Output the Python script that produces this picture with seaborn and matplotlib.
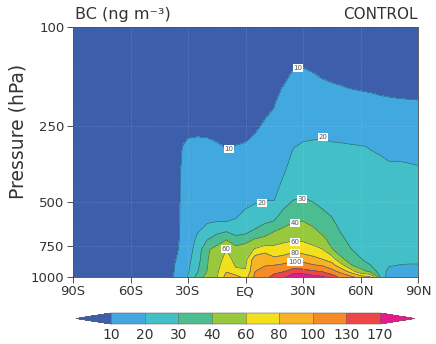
import numpy as np
import matplotlib
matplotlib.use("Agg")
import matplotlib.pyplot as plt
from matplotlib.ticker import NullLocator, FixedLocator, FixedFormatter
import seaborn as sns

sns.set_style("ticks")
plt.rcParams['font.family'] = ['DejaVu Sans']

# ---------------- data ----------------
lats = [-90, -80, -70, -60, -50, -45, -40, -35, -30, -25, -20, -15, -10, -5, 0,
        5, 10, 15, 20, 25, 30, 35, 40, 45, 50, 55, 60, 65, 70, 75, 80, 85, 90]
pressure = [100, 125, 150, 175, 200, 250, 300, 400, 500, 600, 700, 775, 850, 900, 950, 1000]

# BC concentration (ng m-3) per latitude column, top (100 hPa) to bottom (1000 hPa)
bc_90S = [1, 1, 1, 1.5, 1.5, 2, 2, 2.5, 2.5, 3, 3, 3, 3, 3, 3, 3]
bc_80S = [1, 1, 1, 1.5, 1.5, 2, 2, 2.5, 2.5, 3, 3, 3, 3, 3, 3, 3]
bc_70S = [1, 1, 1, 1.5, 1.5, 2, 2, 2.5, 3, 3, 3, 3, 3.5, 3.5, 3.5, 3.5]
bc_60S = [1, 1, 1.5, 1.5, 2, 2, 2.5, 3, 3, 3.5, 3.5, 3.5, 4, 4, 4, 4]
bc_50S = [1, 1, 1.5, 2, 2, 2.5, 3, 3, 3.5, 4, 4, 4, 4.5, 4.5, 4.5, 4.5]
bc_45S = [1, 1, 1.5, 2, 2, 2.5, 3, 3.5, 4, 4.5, 4.5, 5, 5, 5, 5, 5]
bc_40S = [1.5, 1.5, 2, 2.5, 3, 3.5, 4.5, 5.5, 6, 6.5, 6.5, 7, 7, 7, 7, 7]
bc_35S = [2, 2.5, 3, 3.5, 4, 6, 8.5, 9.3, 9.3, 9.3, 9.5, 10, 11, 12, 12.5, 13]
bc_30S = [2, 2.5, 3, 3.5, 4.5, 7, 12.2, 13, 13.5, 14, 15, 16, 17, 18, 19, 20.5]
bc_25S = [2, 2.5, 3, 3.5, 4.5, 7.5, 12.5, 14, 15.5, 17, 21.5, 24, 26.5, 28, 29.5, 34]
bc_20S = [2, 2.5, 3, 3.5, 4.5, 7, 12.5, 15, 17, 19, 28.5, 38.5, 38.8, 39.2, 40.3, 44]
bc_15S = [2, 2.5, 3, 3.5, 4.5, 6.5, 11, 14, 17, 20, 33.5, 43.5, 50, 53, 56, 58]
bc_10S = [2, 2.5, 3, 3.5, 4.5, 6, 9.5, 13, 17, 20, 37, 59.5, 68, 73, 79, 88]
bc_5S = [2, 2.5, 3, 3.5, 4.5, 6.5, 10.2, 13.5, 17.5, 20.5, 32, 44, 54, 58, 64, 88]
bc_EQ = [2.5, 3, 3.5, 4, 5, 7, 10.8, 15, 19, 22, 33, 48, 54, 58, 62, 72]
bc_5N = [2.5, 3, 4, 5, 6.5, 9, 12, 16, 19.7, 23, 39.5, 62, 92, 96, 99.5, 105]
bc_10N = [3, 4, 5, 6.5, 8, 10.9, 13.5, 17, 20.2, 28.5, 41.5, 70, 98, 99, 110, 120]
bc_15N = [3.5, 5, 6.5, 8, 9.5, 12, 15, 18.5, 20.1, 30.5, 47, 68, 84, 101, 122, 140]
bc_20N = [4, 5.5, 7.5, 10.5, 13, 15.5, 17.5, 20.2, 28, 34, 52, 72, 86, 106, 128, 160]
bc_25N = [4.5, 7, 10.3, 13, 15.5, 18, 19.8, 24, 30.5, 39.5, 56, 75, 92, 115, 145, 205]
bc_30N = [5, 7.5, 10.5, 13.5, 16, 18.5, 20.5, 26, 31, 40.2, 55, 72, 90, 112, 142, 210]
bc_35N = [4.5, 7, 9.8, 12.5, 15, 18, 21, 25.5, 30, 37, 48, 68, 86, 103, 135, 185]
bc_40N = [4, 6.5, 8.8, 11.5, 14, 18.5, 21, 24.5, 28.5, 33, 42, 61, 80.5, 99, 128, 176]
bc_45N = [3.5, 6, 8.3, 10.8, 13.5, 17.5, 20.8, 24, 27, 31, 36.5, 40.5, 72, 88, 108, 150]
bc_50N = [3, 6, 8, 10.3, 13, 16.5, 20.8, 23.5, 25.5, 27.5, 31, 35, 42, 68, 92, 118]
bc_55N = [3.5, 6, 7.8, 9.8, 12.5, 16, 20.5, 23, 24.5, 26, 28, 30.2, 36, 41, 72, 105]
bc_60N = [3.5, 6, 7.5, 9.5, 12, 15.5, 20.2, 22.5, 23.5, 24.5, 26, 27.5, 30.5, 36, 44, 92]
bc_65N = [4, 6, 7.3, 9.3, 11.5, 15, 19.8, 22, 23, 23.5, 24.5, 25.5, 27, 30.5, 38, 82]
bc_70N = [4, 6, 7, 9, 11, 14.5, 19.5, 21.5, 22.5, 23, 23.5, 24, 24.5, 25, 26, 31]
bc_75N = [4.5, 6, 7, 8.8, 10.7, 14, 19.2, 21, 22, 22.5, 22.5, 22.5, 22, 20.5, 17, 14]
bc_80N = [4.5, 6, 7, 8.7, 10.5, 13.5, 18.8, 21.5, 21.5, 22, 22, 22, 21.5, 19.8, 16, 13]
bc_85N = [4.5, 6, 7, 8.6, 10.4, 13.2, 18.5, 21.5, 22, 22, 22, 22, 21.5, 19.5, 16, 13]
bc_90N = [4.5, 6, 7, 8.6, 10.3, 13, 18.2, 21.3, 22, 22, 22, 22, 21.5, 19.5, 16, 13]

lat_ticks = [-90, -60, -30, 0, 30, 60, 90]
lat_labels = ['90S', '60S', '30S', 'EQ', '30N', '60N', '90N']
p_ticks = [100, 250, 500, 750, 1000]
p_labels = ['100', '250', '500', '750', '1000']
contour_levels = [10, 20, 30, 40, 60, 80, 100, 130, 170]
band_colors = ['#3c5eab', '#41a8e0', '#43bfc7', '#4bbd90', '#98c83c', '#f2e01c',
               '#f8b224', '#f58a27', '#ee4545', '#e8198b']

# contour label levels and their anchor spots (lat, hPa)
label_levels = [10, 10, 20, 20, 30, 40, 60, 60, 80, 100]
label_lat = [-8.6, 27.4, 8.6, 40.4, 29.5, 25.8, -10.2, 25.8, 25.8, 25.8]
label_p = [307, 146, 506, 275, 488, 608, 773, 724, 802, 871]

Z = np.column_stack([bc_90S, bc_80S, bc_70S, bc_60S, bc_50S, bc_45S, bc_40S, bc_35S,
                     bc_30S, bc_25S, bc_20S, bc_15S, bc_10S, bc_5S, bc_EQ, bc_5N,
                     bc_10N, bc_15N, bc_20N, bc_25N, bc_30N, bc_35N, bc_40N, bc_45N,
                     bc_50N, bc_55N, bc_60N, bc_65N, bc_70N, bc_75N, bc_80N, bc_85N,
                     bc_90N])

# ---------------- figure ----------------
W, H = 436, 344
fig = plt.figure(figsize=(W / 100, H / 100), dpi=100)
fig.patch.set_facecolor('white')
ax = fig.add_axes([73 / W, 1 - 277 / H, 345 / W, 250 / H])

cf = ax.contourf(lats, pressure, Z, levels=contour_levels, colors=band_colors, extend='both')
cl = ax.contour(lats, pressure, Z, levels=contour_levels, colors='#2d5f72', linewidths=0.45)

ax.set_yscale('log')
ax.set_ylim(1000, 100)
ax.set_xlim(-90, 90)
ax.yaxis.set_major_locator(FixedLocator(p_ticks))
ax.yaxis.set_minor_locator(NullLocator())
ax.yaxis.set_major_formatter(FixedFormatter(p_labels))
ax.set_xticks(lat_ticks)
ax.set_xticklabels(lat_labels)
ax.tick_params(axis='both', direction='out', length=4, width=0.6, labelsize=9.5,
               colors='#333333', pad=2, bottom=True, left=True, top=False, right=False)
for s in ax.spines.values():
    s.set_linewidth(0.6)
    s.set_color('#444444')

ax.set_axisbelow(False)
ax.grid(True, which='major', linestyle=(0, (1, 2)), color='white', alpha=0.25, linewidth=0.6)

for lev, la, pp in zip(label_levels, label_lat, label_p):
    ax.text(la, pp, str(lev), fontsize=5, color='#555555', ha='center', va='center',
            zorder=5, bbox=dict(facecolor='white', edgecolor='none', pad=0.6))

fig.text(18 / W, 1 - 131 / H, 'Pressure (hPa)', rotation=90, ha='center', va='center',
         fontsize=13.5, color='#333333')
fig.text(75 / W, 1 - 19 / H, 'BC (ng m⁻³)', ha='left', va='baseline', fontsize=11.5,
         color='#333333')
fig.text(418 / W, 1 - 19 / H, 'CONTROL', ha='right', va='baseline', fontsize=11,
         color='#333333')

# colorbar axes spans the triangle tips; body is the middle part
cax = fig.add_axes([76 / W, 1 - 324 / H, 339 / W, 11 / H])
cb = fig.colorbar(cf, cax=cax, orientation='horizontal', extendfrac=0.13,
                  drawedges=True, ticks=contour_levels)
cb.outline.set_linewidth(0.4)
cb.outline.set_edgecolor('#666666')
cb.dividers.set_color('#666666')
cb.dividers.set_linewidth(0.4)
cax.tick_params(length=0, labelsize=10, pad=3, colors='#333333')
cax.set_xticklabels([str(v) for v in contour_levels])

fig.savefig('out.png', dpi=100, facecolor='white')
